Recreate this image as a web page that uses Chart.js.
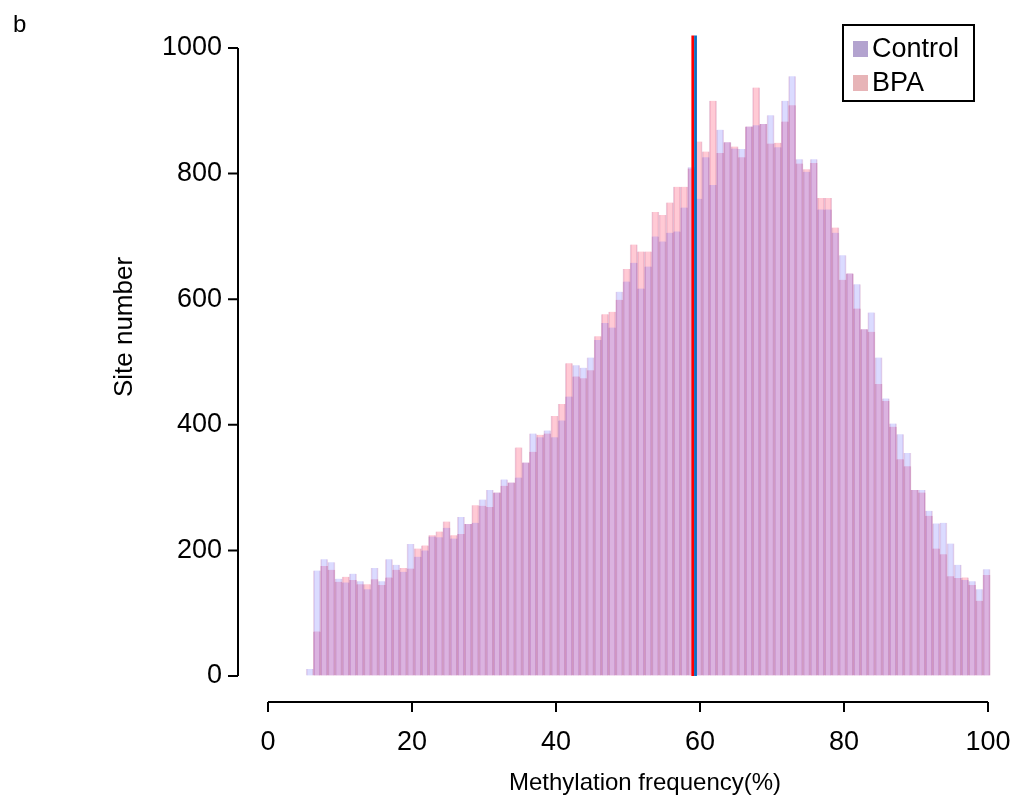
<!DOCTYPE html>
<html>
<head>
<meta charset="utf-8">
<title>Methylation frequency histogram</title>
<script src="https://cdn.jsdelivr.net/npm/chart.js@4.4.1/dist/chart.umd.min.js"></script>
<style>
  html, body { margin: 0; padding: 0; background: #fff; }
  #wrap { position: relative; width: 1019px; height: 808px; }
  #panel { position: absolute; left: 13px; top: 10px; font-family: 'Liberation Sans', Arial, sans-serif; font-size: 24px; line-height: 28px; color: #000; }
</style>
</head>
<body>
<div id="wrap">
  <canvas id="histChart"></canvas>
  <div id="panel">b</div>
</div>
<script>
// bin centres (1% bins)
const binMids = [
    5.8, 6.8, 7.8, 8.8, 9.8, 10.8, 11.8, 12.8, 13.8, 14.8,
    15.8, 16.8, 17.8, 18.8, 19.8, 20.8, 21.8, 22.8, 23.8, 24.8,
    25.8, 26.8, 27.8, 28.8, 29.8, 30.8, 31.8, 32.8, 33.8, 34.8,
    35.8, 36.8, 37.8, 38.8, 39.8, 40.8, 41.8, 42.8, 43.8, 44.8,
    45.8, 46.8, 47.8, 48.8, 49.8, 50.8, 51.8, 52.8, 53.8, 54.8,
    55.8, 56.8, 57.8, 58.8, 59.8, 60.8, 61.8, 62.8, 63.8, 64.8,
    65.8, 66.8, 67.8, 68.8, 69.8, 70.8, 71.8, 72.8, 73.8, 74.8,
    75.8, 76.8, 77.8, 78.8, 79.8, 80.8, 81.8, 82.8, 83.8, 84.8,
    85.8, 86.8, 87.8, 88.8, 89.8, 90.8, 91.8, 92.8, 93.8, 94.8,
    95.8, 96.8, 97.8, 98.8, 99.8
];

const controlCounts = [
    11, 168, 186, 181, 155, 149, 163, 151, 138, 172,
    151, 186, 177, 166, 210, 190, 200, 222, 221, 236,
    219, 253, 242, 244, 281, 296, 292, 313, 308, 316,
    340, 386, 380, 391, 380, 407, 445, 495, 491, 507,
    535, 562, 555, 612, 628, 658, 617, 652, 700, 692,
    706, 708, 746, 810, 760, 826, 782, 870, 850, 840,
    839, 875, 877, 879, 893, 842, 916, 955, 823, 803,
    823, 743, 743, 706, 670, 641, 624, 552, 579, 507,
    442, 402, 385, 355, 296, 296, 263, 243, 244, 211,
    177, 153, 151, 138, 170
];

const bpaCounts = [
    0, 71, 175, 169, 150, 158, 153, 146, 146, 154,
    145, 157, 169, 172, 171, 203, 208, 224, 230, 246,
    224, 226, 242, 272, 271, 269, 292, 303, 308, 364,
    340, 357, 384, 386, 414, 433, 498, 477, 474, 487,
    541, 576, 580, 599, 648, 687, 676, 676, 739, 734,
    754, 779, 779, 808, 851, 835, 916, 833, 850, 843,
    826, 875, 937, 879, 848, 849, 883, 909, 816, 807,
    817, 761, 761, 714, 631, 641, 585, 552, 548, 465,
    438, 397, 345, 334, 296, 292, 255, 203, 194, 159,
    156, 157, 145, 120, 161
];

const xTicks = [0, 20, 40, 60, 80, 100];
const yTicks = [0, 200, 400, 600, 800, 1000];

// mean methylation lines
const meanBpa = 59.0;
const meanControl = 59.38;
const meanLineTop = 1020;

const seriesNames = ['Control', 'BPA'];
const xTitle = 'Methylation frequency(%)';
const yTitle = 'Site number';

const FONT = "'Liberation Sans', Arial, sans-serif";

const rAxesPlugin = {
    id: 'rAxes',
    afterDatasetsDraw(chart) {
        const { ctx, chartArea, scales: { x, y } } = chart;
        ctx.save();

        // mean lines
        ctx.lineWidth = 2.8;
        [[meanBpa, '#ff0000'], [meanControl, '#0b6fc0']].forEach(([m, col]) => {
            const px = x.getPixelForValue(m);
            ctx.strokeStyle = col;
            ctx.beginPath();
            ctx.moveTo(px, y.getPixelForValue(meanLineTop));
            ctx.lineTo(px, y.getPixelForValue(0));
            ctx.stroke();
        });

        // detached axes, base-R style
        ctx.strokeStyle = '#000';
        ctx.lineWidth = 2;
        const axX = chartArea.left - 30;
        ctx.beginPath();
        ctx.moveTo(axX, y.getPixelForValue(yTicks[0]));
        ctx.lineTo(axX, y.getPixelForValue(yTicks[yTicks.length - 1]));
        yTicks.forEach(v => {
            const py = y.getPixelForValue(v);
            ctx.moveTo(axX, py);
            ctx.lineTo(axX - 10, py);
        });
        ctx.stroke();

        const axY = chartArea.bottom + 26;
        ctx.beginPath();
        ctx.moveTo(x.getPixelForValue(xTicks[0]), axY);
        ctx.lineTo(x.getPixelForValue(xTicks[xTicks.length - 1]), axY);
        xTicks.forEach(v => {
            const px = x.getPixelForValue(v);
            ctx.moveTo(px, axY);
            ctx.lineTo(px, axY + 10);
        });
        ctx.stroke();

        // axis titles (sit off-centre in the original figure)
        ctx.fillStyle = '#000';
        ctx.textAlign = 'center';
        ctx.textBaseline = 'middle';
        ctx.font = '24px ' + FONT;
        ctx.fillText(xTitle, 645, 783);
        ctx.save();
        ctx.translate(125, 327);
        ctx.rotate(-Math.PI / 2);
        ctx.font = '26px ' + FONT;
        ctx.fillText(yTitle, 0, 0);
        ctx.restore();

        // legend box
        const lx = 843, ly = 25, lw = 131, lh = 76;
        ctx.lineWidth = 2;
        ctx.strokeRect(lx, ly, lw, lh);
        const swatch = ['#b3a3cf', '#e7b4b7'];
        ctx.font = '27px ' + FONT;
        ctx.textAlign = 'left';
        seriesNames.forEach((name, i) => {
            const cy = ly + 24 + i * 34;
            ctx.fillStyle = swatch[i];
            ctx.fillRect(lx + 10, cy - 8, 15, 16);
            ctx.fillStyle = '#000';
            ctx.fillText(name, lx + 29, cy + 1);
        });

        ctx.restore();
    }
};

// invisible tick marks push the labels away from the plot, like R's detached axes
const hiddenGrid = (len) => ({
    display: true,
    drawOnChartArea: false,
    drawTicks: true,
    tickLength: len,
    tickColor: 'rgba(0,0,0,0)'
});

const ctx = document.getElementById('histChart').getContext('2d');

new Chart(ctx, {
    type: 'bar',
    data: {
        datasets: [
            {
                label: seriesNames[0],
                data: binMids.map((b, i) => ({ x: b, y: controlCounts[i] })),
                backgroundColor: 'rgba(110, 110, 255, 0.25)',
                borderColor: 'rgba(150, 50, 140, 0.2)',
                borderWidth: { left: 1, right: 1, top: 0, bottom: 0 },
                borderSkipped: false,
                clip: false
            },
            {
                label: seriesNames[1],
                data: binMids.map((b, i) => ({ x: b, y: bpaCounts[i] })),
                backgroundColor: 'rgba(255, 110, 140, 0.37)',
                borderColor: 'rgba(175, 50, 115, 0.25)',
                borderWidth: { left: 1, right: 1, top: 0, bottom: 0 },
                borderSkipped: false,
                clip: false
            }
        ]
    },
    options: {
        responsive: true,
        maintainAspectRatio: false,
        animation: false,
        grouped: false,
        barPercentage: 1.0,
        categoryPercentage: 1.0,
        layout: { padding: { left: 109, right: 31, top: 48, bottom: 9 } },
        plugins: {
            legend: { display: false },
            tooltip: { enabled: false }
        },
        scales: {
            x: {
                type: 'linear',
                min: 0,
                max: 100,
                offset: false,
                grid: hiddenGrid(48),
                border: { display: false },
                afterBuildTicks: (scale) => { scale.ticks = xTicks.map(v => ({ value: v })); },
                afterFit: (scale) => { scale.height = 123; },
                ticks: {
                    color: '#000',
                    padding: 2,
                    maxRotation: 0,
                    callback: (v) => String(v),
                    font: { family: FONT, size: 27 }
                },
                title: { display: false }
            },
            y: {
                min: 0,
                max: 1000,
                grid: hiddenGrid(44),
                border: { display: false },
                afterBuildTicks: (scale) => { scale.ticks = yTicks.map(v => ({ value: v })); },
                afterFit: (scale) => { scale.width = 159; },
                ticks: {
                    color: '#000',
                    padding: 2,
                    callback: (v) => String(v),
                    font: { family: FONT, size: 27 }
                },
                title: { display: false }
            }
        }
    },
    plugins: [rAxesPlugin]
});
</script>
</body>
</html>
